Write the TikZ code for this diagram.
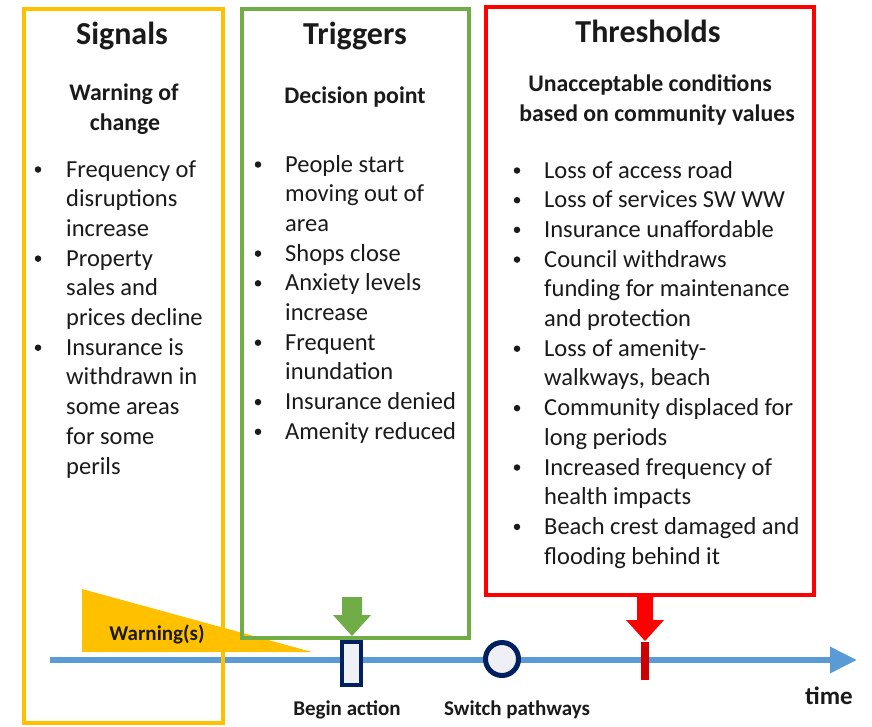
\documentclass[tikz,border=0pt]{standalone}
\usepackage{fontspec}
\setmainfont{Carlito}
\usetikzlibrary{arrows.meta}
\definecolor{cyel}{HTML}{FFC000}
\definecolor{cgrn}{HTML}{70AD47}
\definecolor{cred}{HTML}{FF0000}
\definecolor{cdred}{HTML}{D00000}
\definecolor{cblue}{HTML}{5B9BD5}
\definecolor{cnavy}{HTML}{002060}
\definecolor{clight}{HTML}{EEF0F6}
\definecolor{ctxt}{HTML}{1A1A1A}
\newcommand\mylist[5]{%
  \foreach \k/\t [count=\i from 0] in {#5} {
    \node[item] (#1\i) at (#3, #4+29.7*\i) {\t};
    \if\k b \node[bul] (#1b\i) at (#2, #4+29.7*\i-7.5) {};\fi
  }}
\begin{document}
\begin{tikzpicture}[x=1pt,y=-1pt,
  title/.style={font=\fontsize{32}{36}\selectfont\bfseries, anchor=base, inner sep=0, text=ctxt},
  sub/.style={font=\fontsize{23.8}{28}\selectfont\bfseries, anchor=base, inner sep=0, text=ctxt},
  item/.style={font=\fontsize{24.5}{29}\selectfont, anchor=base west, inner sep=0, text=ctxt},
  bul/.style={circle, fill=ctxt, minimum size=6.5pt, inner sep=0},
  lbl/.style={font=\fontsize{21}{24}\selectfont\bfseries, anchor=base, inner sep=0, text=ctxt}]
\useasboundingbox (0,0) rectangle (872,726);
\fill[white] (0,0) rectangle (872,726);
% timeline
\draw[cblue, line width=6, -{Triangle[length=27pt,width=25pt]}] (50,660) coordinate (t0) -- (857,660) coordinate (t1);
% warning triangle
\fill[cyel] (82,589) -- (82,652) -- (312,652) -- cycle;
\node[lbl] (warn) at (157,640) {Warning(s)};
% boxes
\draw[cyel, line width=4] (24,9) rectangle (223,723);
\draw[cgrn, line width=4] (242,9) rectangle (469,638);
\draw[cred, line width=4.5] (486,7) rectangle (814,595);
% titles
\node[title] (tsig) at (122,44) {Signals};
\node[title] (ttrig) at (355,44) {Triggers};
\node[title] (tthr) at (648,42) {Thresholds};
\node[sub] (ssig1) at (124,100) {Warning of};
\node[sub] (ssig2) at (125,130) {change};
\node[sub] (strig) at (355,103) {Decision point};
\node[sub] (sthr1) at (650,91) {Unacceptable conditions};
\node[sub] (sthr2) at (657,121) {based on community values};
% lists
\mylist{s}{38}{66}{177}{b/Frequency of, c/disruptions, c/increase, b/Property, c/sales and, c/prices decline, b/Insurance is, c/withdrawn in, c/some areas, c/for some, c/perils}
\mylist{g}{258}{285}{172}{b/People start, c/moving out of, c/area, b/Shops close, b/Anxiety levels, c/increase, b/Frequent, c/inundation, b/Insurance denied, b/Amenity reduced}
\mylist{r}{517}{544}{178}{b/Loss of access road, b/Loss of services SW WW, b/Insurance unaffordable, b/Council withdraws, c/funding for maintenance, c/and protection, b/Loss of amenity-, c/{walkways, beach}, b/Community displaced for, c/long periods, b/Increased frequency of, c/health impacts, b/Beach crest damaged and, c/flooding behind it}
% green arrow
\fill[cgrn] (342,597) -- (362,597) -- (362,615) -- (371,615) -- (352,636) -- (333,615) -- (342,615) -- cycle;
% begin action marker
\draw[cnavy, line width=4.5, fill=clight] (342,642) rectangle (361,685);
% switch pathways marker
\draw[cnavy, line width=5, fill=clight] (502,659) circle (16.5);
% red arrow and tick
\fill[cred] (637,597) -- (653,597) -- (653,620) -- (664,620) -- (645,641) -- (626,620) -- (637,620) -- cycle;
\fill[cdred] (641,642) rectangle (649,680);
% bottom labels
\node[lbl] (begin) at (347,715) {Begin action};
\node[lbl] (switch) at (517,715) {Switch pathways};
\node[lbl, font=\fontsize{25}{30}\selectfont\bfseries] (time) at (829,704) {time};
\end{tikzpicture}
\end{document}
